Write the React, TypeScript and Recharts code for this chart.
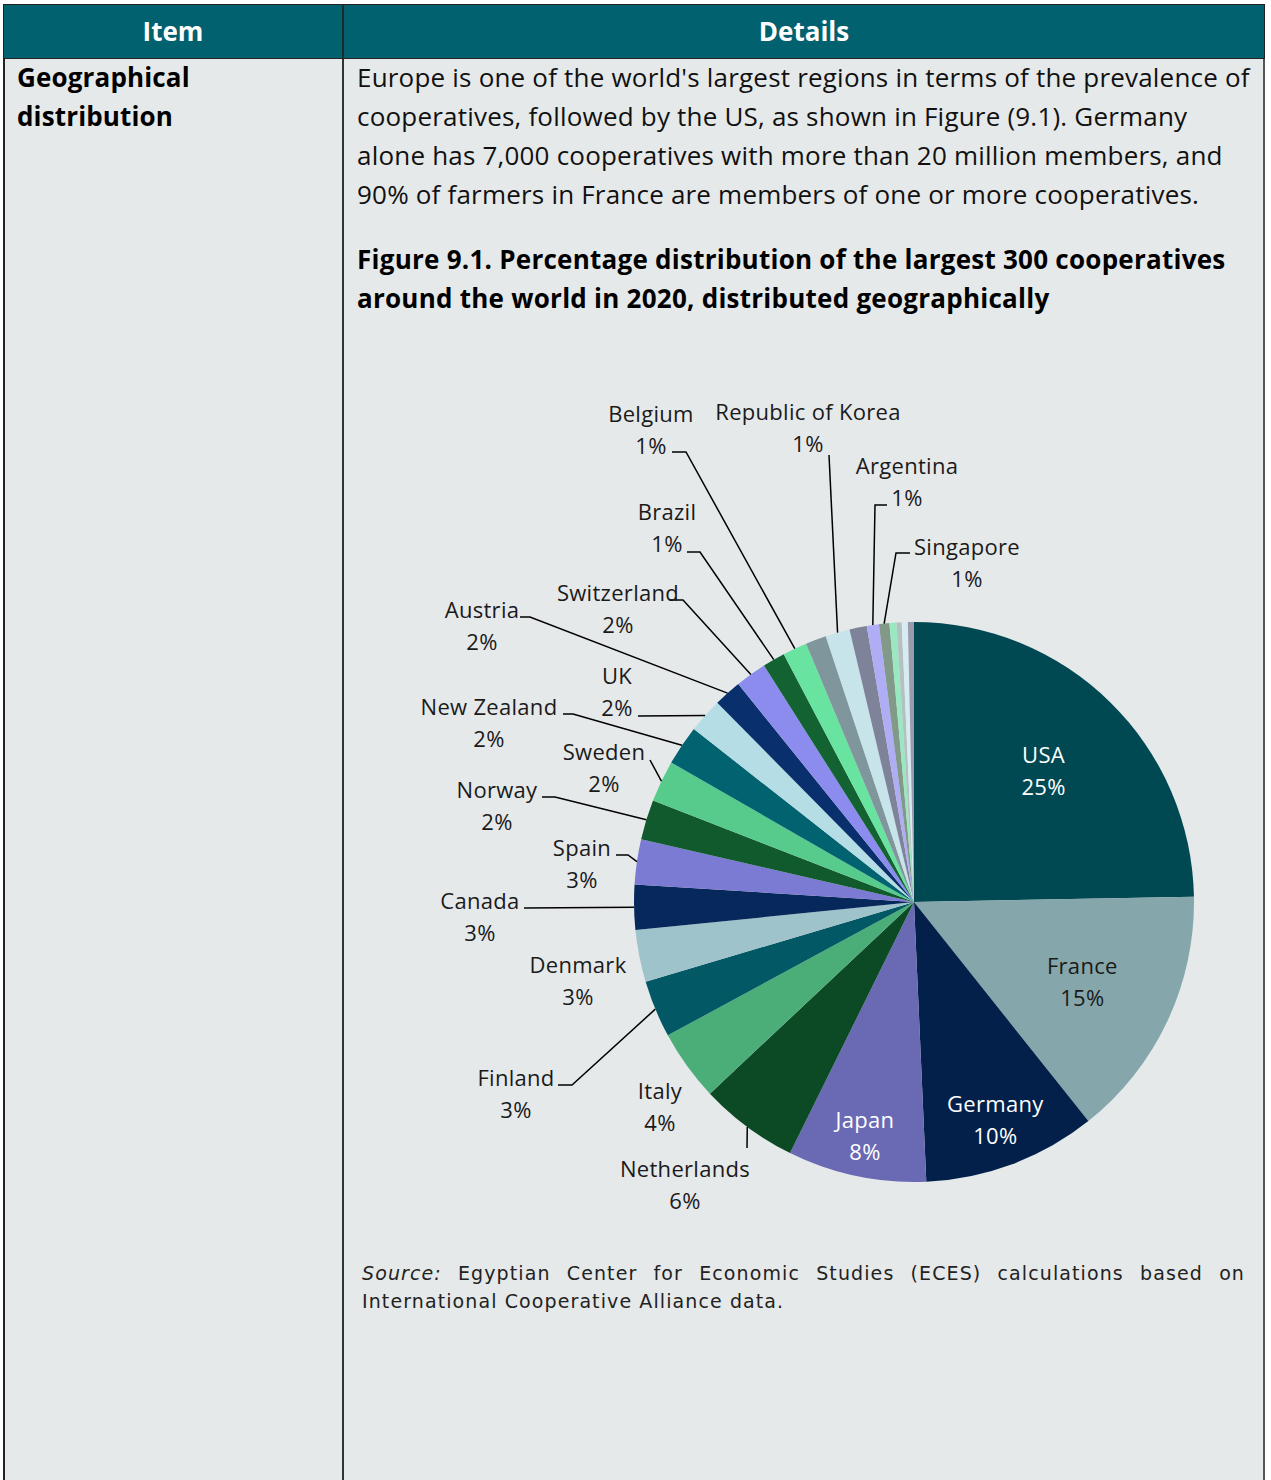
import React from "react";
import { PieChart, Pie, Cell } from "recharts";

// slice order, clockwise from 12 o'clock (blank names = unlabelled slices)
const countries = [
  "USA", "France", "Germany", "Japan", "Netherlands", "Italy", "Finland",
  "Denmark", "Canada", "Spain", "Norway", "Sweden", "New Zealand", "UK",
  "Austria", "Switzerland", "Brazil", "Belgium", "", "Republic of Korea", "",
  "Argentina", "Singapore", "", "", "", "",
];
const shares = [
  24.7, 14.6, 10.0, 8.0, 5.7, 4.1, 3.3, 3.0, 2.6, 2.6, 2.3, 2.4, 2.3, 2.0,
  1.6, 1.8, 1.3, 1.4, 1.2, 1.4, 1.0, 0.7, 0.6, 0.4, 0.3, 0.35, 0.35,
];
const sliceColors = [
  "#004953", "#85A6AB", "#03204A", "#6A69B4", "#0B4A25", "#4BAE78", "#025864",
  "#9FC3CB", "#06285A", "#7B7BD3", "#105A2E", "#56CB8C", "#016270", "#B4DDE5",
  "#092F6C", "#8C8CEE", "#126232", "#69E4A0", "#7F979C", "#C8E4EB", "#7F8399",
  "#AFAEF5", "#82998A", "#99E8BF", "#B4C1C2", "#D7ECF0", "#9A9CAE",
];

const paragraph = [
  "Europe is one of the world's largest regions in terms of the prevalence of",
  "cooperatives, followed by the US, as shown in Figure (9.1). Germany",
  "alone has 7,000 cooperatives with more than 20 million members, and",
  "90% of farmers in France are members of one or more cooperatives.",
];
const figureTitle = [
  "Figure 9.1. Percentage distribution of the largest 300 cooperatives",
  "around the world in 2020, distributed geographically",
];
const sourceLines = [
  "Egyptian Center for Economic Studies (ECES) calculations based on",
  "International Cooperative Alliance data.",
];

const rows = countries.map((name, i) => ({ name, value: shares[i] }));

// label placement (offsets from pie centre), kept apart from the data
const insideLabels: Record<number, { r: number; color: string }> = {
  0: { r: 185, color: "#fff" },
  1: { r: 186, color: "#1a1a1a" },
  2: { r: 232, color: "#fff" },
  3: { r: 238, color: "#fff" },
};
const outsideLabels: Record<number, { tx: number; ty: number; path: number[][] }> = {
  4: { tx: -229, ty: 266, path: [[-167, 246]] },
  5: { tx: -254, ty: 188, path: [] },
  6: { tx: -398, ty: 175, path: [[-342, 183], [-356, 183]] },
  7: { tx: -336, ty: 62, path: [] },
  8: { tx: -434, ty: -2, path: [[-390, 6]] },
  9: { tx: -332, ty: -55, path: [[-286, -47], [-298, -47]] },
  10: { tx: -417, ty: -113, path: [[-359, -105], [-372, -105]] },
  11: { tx: -310, ty: -151, path: [[-264, -142]] },
  12: { tx: -425, ty: -196, path: [[-341, -188], [-351, -188]] },
  13: { tx: -297, ty: -227, path: [[-276, -186]] },
  14: { tx: -432, ty: -293, path: [[-384, -285], [-394, -285]] },
  15: { tx: -296, ty: -310, path: [[-231, -302], [-244, -302]] },
  16: { tx: -247, ty: -391, path: [[-214, -350], [-227, -350]] },
  17: { tx: -263, ty: -489, path: [[-228, -450], [-242, -450]] },
  19: { tx: -106, ty: -491, path: [[-85, -447]] },
  21: { tx: -7, ty: -437, path: [[-39, -397], [-27, -397]] },
  22: { tx: 53, ty: -356, path: [[-18, -349], [-4, -349]] },
};

const RAD = Math.PI / 180;
const LABEL_FONT = "'Open Sans', 'Noto Sans', sans-serif";
const labelText = { fontFamily: LABEL_FONT, fontSize: 22, letterSpacing: 0.3 };

const renderLabel = (props: any) => {
  const { cx, cy, midAngle, outerRadius, percent, index, name } = props;
  const pct = `${Math.round(percent * 100)}%`;
  const cos = Math.cos(-midAngle * RAD);
  const sin = Math.sin(-midAngle * RAD);

  const inside = insideLabels[index];
  if (inside) {
    const x = cx + inside.r * cos;
    const y = cy + inside.r * sin;
    return (
      <g>
        <text x={x} y={y - 16} textAnchor="middle" fill={inside.color}
          dominantBaseline="central" {...labelText}>{name}</text>
        <text x={x} y={y + 16} textAnchor="middle" fill={inside.color}
          dominantBaseline="central" {...labelText}>{pct}</text>
      </g>
    );
  }

  const out = outsideLabels[index];
  if (!out) return null;
  const ax = cx + outerRadius * cos;
  const ay = cy + outerRadius * sin;
  const pts = [[ax, ay], ...out.path.map(([px, py]) => [cx + px, cy + py])];
  const tx = cx + out.tx;
  const ty = cy + out.ty;
  return (
    <g>
      {out.path.length > 0 && (
        <polyline points={pts.map((p) => p.join(",")).join(" ")}
          fill="none" stroke="#000" strokeWidth={1.5} />
      )}
      <text x={tx} y={ty} textAnchor="middle" fill="#1a1a1a"
        dominantBaseline="central" {...labelText}>{name}</text>
      <text x={tx} y={ty + 32} textAnchor="middle" fill="#1a1a1a"
        dominantBaseline="central" {...labelText}>{pct}</text>
    </g>
  );
};

const textFont = "'Open Sans', 'Noto Sans', sans-serif";

export default function App() {
  return (
    <div style={{ position: "absolute", left: 0, top: 0, width: 1271, height: 1480, background: "#fff", overflow: "hidden", fontFamily: textFont, color: "#111" }}>
      {/* table body */}
      <div style={{ position: "absolute", left: 3, top: 4, width: 1262, height: 1480, background: "#E6E9EA", borderLeft: "2px solid #222", borderRight: "2px solid #555", boxSizing: "border-box" }} />
      <div style={{ position: "absolute", left: 342, top: 58, width: 1.5, height: 1430, background: "#333" }} />
      {/* header */}
      <div style={{ position: "absolute", left: 3, top: 4, width: 1262, height: 55, background: "#02616F", border: "1px solid #222", boxSizing: "border-box" }} />
      <div style={{ position: "absolute", left: 342, top: 4, width: 1.5, height: 55, background: "#1c2a2e" }} />
      <div style={{ position: "absolute", left: 4, top: 4, width: 338, height: 55, lineHeight: "55px", textAlign: "center", color: "#fff", fontWeight: 700, fontSize: 26 }}>Item</div>
      <div style={{ position: "absolute", left: 343, top: 4, width: 922, height: 55, lineHeight: "55px", textAlign: "center", color: "#fff", fontWeight: 700, fontSize: 26 }}>Details</div>

      {/* left cell */}
      <div style={{ position: "absolute", left: 17, top: 58, lineHeight: "39px", fontSize: 26, letterSpacing: 0.15, fontWeight: 700, color: "#000" }}>
        <div>Geographical</div>
        <div>distribution</div>
      </div>

      {/* right cell text */}
      <div style={{ position: "absolute", left: 357, top: 58, lineHeight: "39px", fontSize: 26, letterSpacing: 0.2, whiteSpace: "nowrap", color: "#111" }}>
        {paragraph.map((l) => <div key={l}>{l}</div>)}
      </div>
      <div style={{ position: "absolute", left: 357, top: 240, lineHeight: "39px", fontSize: 26, letterSpacing: 0.25, fontWeight: 700, whiteSpace: "nowrap", color: "#000" }}>
        {figureTitle.map((l) => <div key={l}>{l}</div>)}
      </div>

      {/* chart */}
      <div style={{ position: "absolute", left: 344, top: 330 }}>
        <PieChart width={920} height={900} margin={{ top: 0, right: 0, bottom: 0, left: 0 }}>
          <Pie data={rows} dataKey="value" nameKey="name" cx={570} cy={572}
            outerRadius={280} startAngle={90} endAngle={-270} stroke="none"
            isAnimationActive={false} labelLine={false} label={renderLabel}>
            {rows.map((r, i) => <Cell key={i} fill={sliceColors[i]} />)}
          </Pie>
        </PieChart>
      </div>

      {/* source */}
      <div style={{ position: "absolute", left: 362, top: 1259, width: 883, lineHeight: "28px", fontSize: 19, letterSpacing: 1.1, fontFamily: "'DejaVu Sans', sans-serif", color: "#222" }}>
        <div style={{ textAlign: "justify", textAlignLast: "justify", whiteSpace: "nowrap" }}>
          <i>Source:</i> {sourceLines[0]}
        </div>
        <div>{sourceLines[1]}</div>
      </div>
    </div>
  );
}
